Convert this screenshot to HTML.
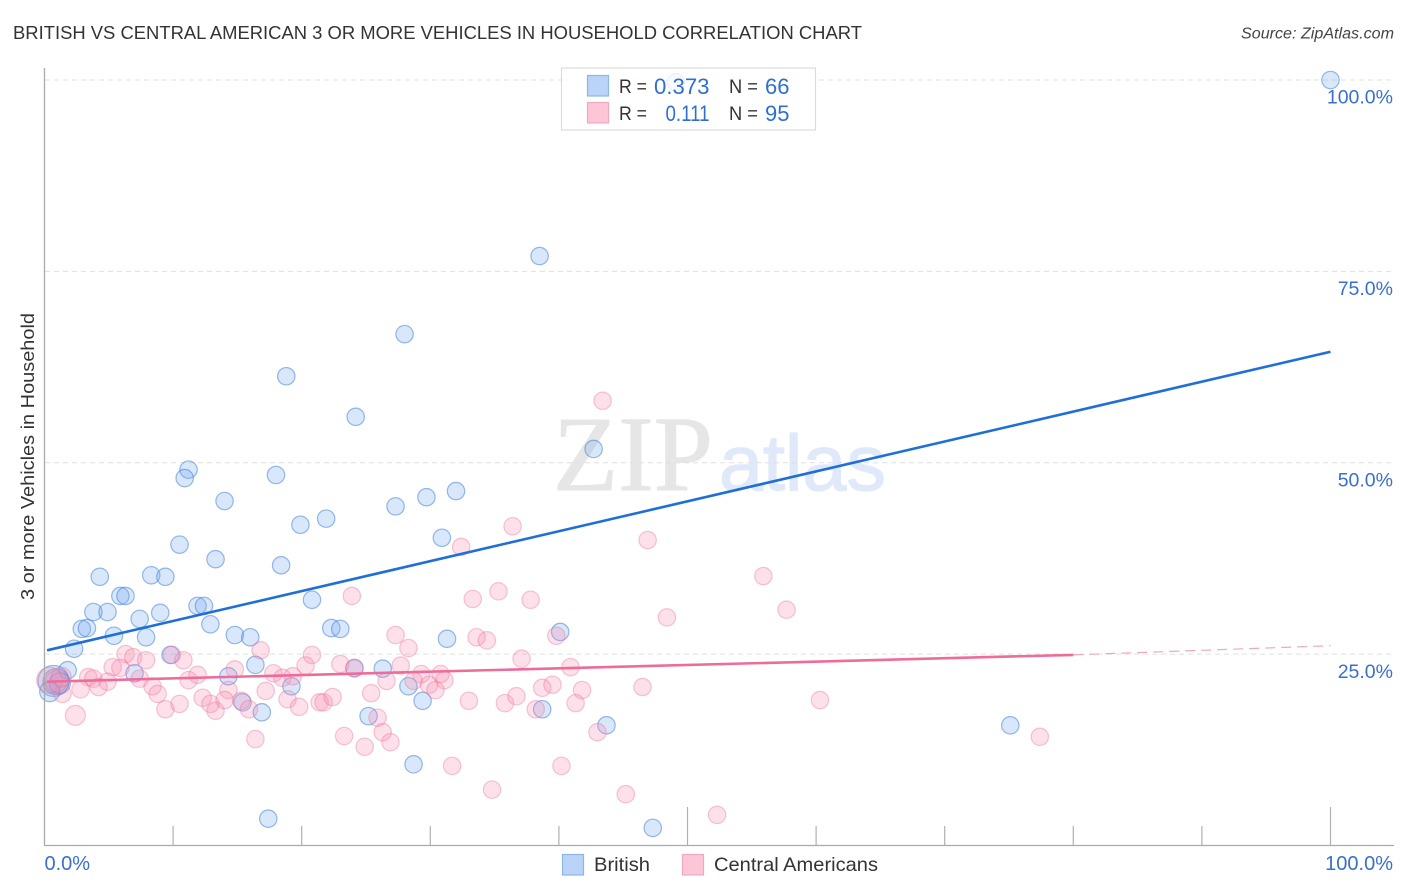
<!DOCTYPE html>
<html lang="en">
<head>
<meta charset="utf-8">
<title>British vs Central American 3 or More Vehicles in Household Correlation Chart</title>
<style>
html,body{margin:0;padding:0;background:#fff;}
svg{display:block;font-family:"Liberation Sans",sans-serif;}
</style>
</head>
<body>
<svg id="chart" xmlns="http://www.w3.org/2000/svg" width="1406" height="892" viewBox="0 0 1406 892">
  <rect width="1406" height="892" fill="#fff"/>
  <text x="13" y="39" font-size="18.5" fill="#333" textLength="849" lengthAdjust="spacingAndGlyphs">BRITISH VS CENTRAL AMERICAN 3 OR MORE VEHICLES IN HOUSEHOLD CORRELATION CHART</text>
  <text x="1394" y="38.5" font-size="15.5" font-style="italic" fill="#444" text-anchor="end" textLength="153" lengthAdjust="spacingAndGlyphs">Source: ZipAtlas.com</text>
  <g id="watermark">
    <text x="553" y="490" font-family="'Liberation Serif',serif" font-size="107" fill="#e6e6e6" stroke="#e6e6e6" stroke-width="1" textLength="160" lengthAdjust="spacingAndGlyphs">ZIP</text>
    <text x="719" y="490" font-size="79" fill="#dfe9f9" stroke="#dfe9f9" stroke-width="1.2" textLength="167" lengthAdjust="spacingAndGlyphs">atlas</text>
  </g>
  <g id="grid"></g>
  <g id="points-british"></g>
  <g id="points-central"></g>
  <g id="trends"></g>
  <g id="axes"></g>
  <text transform="translate(34,456.5) rotate(-90)" font-size="18.5" fill="#333" text-anchor="middle" textLength="287" lengthAdjust="spacingAndGlyphs">3 or more Vehicles in Household</text>

  <g>
    <rect x="561.5" y="68" width="254" height="62" fill="#fff" fill-opacity="0.8" stroke="#dcdcdc" stroke-width="1.2"/>
    <rect x="587.5" y="75.5" width="21" height="20.5" fill="#b9d4f6" stroke="#8db6e8" stroke-width="1.2"/>
    <rect x="587.5" y="102.5" width="21" height="20.5" fill="#fcc6d7" stroke="#f2a9c0" stroke-width="1.2"/>
    <g font-size="19" fill="#333">
      <text x="619" y="93" textLength="28" lengthAdjust="spacingAndGlyphs">R =</text>
      <text x="619" y="120" textLength="28" lengthAdjust="spacingAndGlyphs">R =</text>
      <text x="729" y="93" textLength="29" lengthAdjust="spacingAndGlyphs">N =</text>
      <text x="729" y="120" textLength="29" lengthAdjust="spacingAndGlyphs">N =</text>
    </g>
    <g font-size="22" fill="#2f6fd0">
      <text x="654" y="94" textLength="55.5" lengthAdjust="spacingAndGlyphs">0.373</text>
      <text x="665.5" y="121" textLength="44" lengthAdjust="spacingAndGlyphs">0.111</text>
      <text x="765" y="94">66</text>
      <text x="765" y="121">95</text>
    </g>
  </g>

  <g>
    <rect x="562.5" y="854.5" width="21" height="20.5" fill="#b9d4f6" stroke="#8db6e8" stroke-width="1.2"/>
    <text x="594" y="871" font-size="19.5" fill="#333" textLength="56" lengthAdjust="spacingAndGlyphs">British</text>
    <rect x="682.5" y="854.5" width="21" height="20.5" fill="#fcc6d7" stroke="#f2a9c0" stroke-width="1.2"/>
    <text x="714" y="871" font-size="19.5" fill="#333" textLength="164" lengthAdjust="spacingAndGlyphs">Central Americans</text>
  </g>
</svg>
<script>
// Chart data (values in percent)
const britishX = [100,49.1,38.5,28.0,18.8,24.2,42.7,11.2,10.9,18.0,14.0,27.3,29.7,32.0,19.9,21.9,30.9,10.5,13.3,18.4,4.3,8.3,9.4,5.9,6.3,20.8,3.8,4.9,11.9,12.4,7.4,9.0,12.9,2.9,3.3,22.3,23.0,5.4,7.9,14.8,16.0,31.3,40.1,2.3,9.8,1.8,16.4,24.1,26.3,7.0,14.3,19.2,28.3,29.4,38.7,16.9,15.4,25.2,43.7,75.1,28.7,17.4,47.3];
const britishY = [100,99.7,77.0,66.8,61.3,56.0,51.8,49.1,48.0,48.4,45.0,44.3,45.5,46.3,41.9,42.7,40.2,39.3,37.4,36.6,35.1,35.3,35.1,32.6,32.6,32.1,30.5,30.5,31.3,31.3,29.6,30.4,28.9,28.3,28.4,28.4,28.3,27.4,27.2,27.5,27.2,27.0,27.9,25.7,24.9,22.9,23.6,23.2,23.1,22.5,22.1,20.8,20.8,18.9,17.8,17.4,18.7,16.9,15.7,15.7,10.6,3.5,2.3];
const britishClusterX = [0.7,0.9,1.2,0.4];
const britishClusterY = [21.5,21.4,21.2,20.1];
const britishClusterRadius = [15.5,13,10.5,10];

const centralX = [43.4,36.4,46.9,32.4,55.9,35.3,33.3,37.8,23.9,57.7,48.4,27.3,33.6,34.4,39.8,28.3,16.8,20.8,37.1,23.0,6.3,6.9,7.9,9.9,10.8,5.3,5.9,3.4,3.8,4.9,4.2,2.8,11.9,11.2,14.8,20.3,17.8,19.3,18.5,27.7,40.9,29.3,30.8,31.1,28.7,29.9,26.6,30.4,24.1,8.4,7.4,8.8,14.3,17.2,12.3,12.9,14.0,13.3,15.3,15.9,18.9,19.8,9.4,10.5,21.4,21.7,22.4,25.4,33.0,35.8,36.7,38.7,39.5,41.8,46.5,41.3,38.2,60.3,1.4,16.4,23.3,24.9,25.9,26.3,26.9,43.0,77.4,31.7,40.2,34.8,45.2,52.3];
const centralY = [58.1,41.7,39.9,39.0,35.2,33.2,32.2,32.1,32.6,30.8,29.8,27.5,27.2,26.8,27.4,25.8,25.5,24.9,24.4,23.7,25.0,24.6,24.2,24.9,24.2,23.3,23.2,22.0,21.8,21.4,20.7,20.4,22.3,21.6,23.0,23.5,22.5,22.1,21.9,23.5,23.3,22.4,22.4,21.6,21.5,21.0,21.5,20.3,23.1,20.8,21.8,19.8,20.3,20.2,19.3,18.5,19.0,17.6,18.9,17.8,19.1,18.1,17.8,18.5,18.7,18.7,19.4,19.9,18.9,18.6,19.5,20.6,21.0,20.3,20.7,18.6,17.8,19.0,19.8,13.9,14.3,12.9,16.7,14.8,13.5,14.8,14.2,10.4,10.4,7.3,6.7,4.0];
const centralClusterX = [0.4,0.9,1.3,2.4];
const centralClusterY = [21.6,21.4,22.0,17.0];
const centralClusterRadius = [13,11,10,10];

const britishTrendX = [0.2,100];
const britishTrendY = [25.5,64.5];
const centralTrendX = [0.2,80];
const centralTrendY = [21.4,24.9];
const centralTrendDashX = [80,100];
const centralTrendDashY = [24.9,26.1];

const xTickValues = [10,20,30,40,50,60,70,80,90,100];
const xMajorTicks = [50,100];
const yGridValues = [25,50,75,100];
const yTickLabels = ['25.0%','50.0%','75.0%','100.0%'];
const xEndValues = [0,100];
const xEndLabels = ['0.0%','100.0%'];

// Axis functions
function xScale(v){ return 44.5 + v * 12.86; }
function yScale(v){ return 845.5 - v * 7.655; }

const NS = 'http://www.w3.org/2000/svg';
function make(tag, parent, attrs){
  const el = document.createElementNS(NS, tag);
  for (const k in attrs) el.setAttribute(k, attrs[k]);
  parent.appendChild(el);
  return el;
}

const grid = document.getElementById('grid');
yGridValues.forEach(function(v){
  const line = make('line', grid, {x1:45, x2:1394, y1:yScale(v), y2:yScale(v), stroke:'#e0e0e0', 'stroke-width':1, 'stroke-dasharray':'5 4'});
  
  
});

function drawPoints(group, xs, ys, radii, fill, stroke, name){
  xs.forEach(function(x, i){
    const c = make('circle', group, {cx:xScale(x), cy:yScale(ys[i]), r:radii ? radii[i] : 8.7, fill:fill, stroke:stroke, 'stroke-width':1.2});
    
    
  });
}
const blueFill = 'rgba(120,170,240,0.28)', blueStroke = 'rgba(60,125,215,0.52)';
const pinkFill = 'rgba(248,140,175,0.27)', pinkStroke = 'rgba(235,110,150,0.38)';
const gBritish = document.getElementById('points-british');
const gCentral = document.getElementById('points-central');
drawPoints(gBritish, britishX, britishY, null, blueFill, blueStroke, 'british-point');
drawPoints(gBritish, britishClusterX, britishClusterY, britishClusterRadius, blueFill, blueStroke, 'british-point');
drawPoints(gCentral, centralX, centralY, null, pinkFill, pinkStroke, 'central-american-point');
drawPoints(gCentral, centralClusterX, centralClusterY, centralClusterRadius, pinkFill, pinkStroke, 'central-american-point');

const trends = document.getElementById('trends');
const t1 = make('line', trends, {x1:xScale(britishTrendX[0]), y1:yScale(britishTrendY[0]), x2:xScale(britishTrendX[1]), y2:yScale(britishTrendY[1]), stroke:'#1f6fd6', 'stroke-width':2.6});


const t2 = make('line', trends, {x1:xScale(centralTrendX[0]), y1:yScale(centralTrendY[0]), x2:xScale(centralTrendX[1]), y2:yScale(centralTrendY[1]), stroke:'#ee6c9a', 'stroke-width':2.6});


const t3 = make('line', trends, {x1:xScale(centralTrendDashX[0]), y1:yScale(centralTrendDashY[0]), x2:xScale(centralTrendDashX[1]), y2:yScale(centralTrendDashY[1]), stroke:'#f2a6c0', 'stroke-width':1.2, 'stroke-dasharray':'10 6'});



const axes = document.getElementById('axes');
const yAxis = make('line', axes, {x1:44.5, x2:44.5, y1:68, y2:846, stroke:'#aaa', 'stroke-width':1.3});


const xAxis = make('line', axes, {x1:44, x2:1394, y1:845.5, y2:845.5, stroke:'#aaa', 'stroke-width':1.3});


xTickValues.forEach(function(v){
  const top = xMajorTicks.indexOf(v) >= 0 ? 807 : 826;
  const tick = make('line', axes, {x1:xScale(v), x2:xScale(v), y1:top, y2:845.5, stroke:'#b0b0b0', 'stroke-width':1.2});
  
  
});
yGridValues.forEach(function(v, i){
  const label = make('text', axes, {x:1393, y:yScale(v) + 23.7, 'font-size':19.5, fill:'#3a6fd0', 'text-anchor':'end'});
  label.textContent = yTickLabels[i];
  
  
});
xEndValues.forEach(function(v, i){
  const label = make('text', axes, {x: v === 0 ? xScale(v) : 1393, y:870, 'font-size':20, fill:'#3a6fd0', 'text-anchor': v === 0 ? 'start' : 'end'});
  label.textContent = xEndLabels[i];
  
  
});
</script>
</body>
</html>
